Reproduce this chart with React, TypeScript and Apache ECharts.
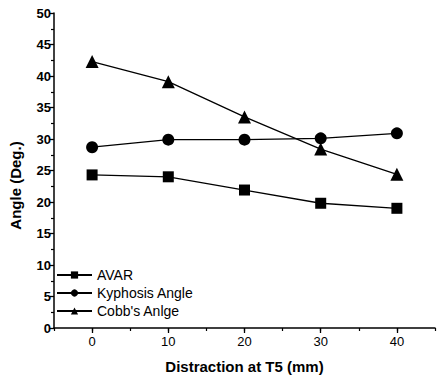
import React, { useEffect, useRef } from "react";
import * as echarts from "echarts";

const distraction = [0, 10, 20, 30, 40];
const avar = [24.3, 24.0, 21.9, 19.8, 19.0];
const kyphosis = [28.7, 29.9, 29.9, 30.1, 30.9];
const cobb = [42.3, 39.1, 33.5, 28.4, 24.4];
const xTickLabels = [0, 10, 20, 30, 40];

const FONT = "'Liberation Sans', Arial, sans-serif";

export default function App() {
  const ref = useRef<HTMLDivElement>(null);
  useEffect(() => {
    if (!ref.current) return;
    const chart = echarts.init(ref.current, null, { renderer: "svg" });
    const mk = (name: string, vals: number[], symbol: string, size: number) => ({
      name,
      type: "line",
      data: distraction.map((d, i) => [d, vals[i]]),
      symbol,
      symbolSize: size,
      itemStyle: { color: "#000" },
      lineStyle: { color: "#000", width: 1.3 },
      z: 3,
    });
    chart.setOption({
      animation: false,
      backgroundColor: "#fff",
      grid: { left: 52, right: 2, top: 13, bottom: 53 },
      legend: {
        left: 51,
        top: 263,
        orient: "vertical",
        itemWidth: 35,
        itemHeight: 9,
        itemGap: 4,
        textStyle: { fontFamily: FONT, fontSize: 14, color: "#000" },
        data: ["AVAR", "Kyphosis Angle", "Cobb's Anlge"],
      },
      xAxis: [
        {
          type: "value",
          min: -5,
          max: 45,
          interval: 5,
          name: "Distraction at T5 (mm)",
          nameLocation: "middle",
          nameGap: 31,
          nameTextStyle: { fontFamily: FONT, fontSize: 15, fontWeight: "bold", color: "#000" },
          axisLine: { show: true, onZero: false, lineStyle: { color: "#000", width: 1.5 } },
          axisTick: { show: true, length: 5, lineStyle: { color: "#000", width: 1.3 }, customValues: xTickLabels },
          axisLabel: { fontFamily: FONT, fontSize: 13, color: "#000", margin: 7, customValues: xTickLabels },
          splitLine: { show: false },
        },
        {
          type: "value",
          min: -5,
          max: 45,
          interval: 5,
          position: "bottom",
          axisLine: { show: false },
          axisTick: { show: true, length: 3, lineStyle: { color: "#000", width: 1.2 } },
          axisLabel: { show: false },
          splitLine: { show: false },
        },
      ],
      yAxis: {
        type: "value",
        min: 0,
        max: 50,
        interval: 5,
        name: "Angle (Deg.)",
        nameLocation: "middle",
        nameGap: 31,
        nameTextStyle: { fontFamily: FONT, fontSize: 15, fontWeight: "bold", color: "#000", padding: [0, 30, 0, 0] },
        axisLine: { show: true, onZero: false, lineStyle: { color: "#000", width: 1.5 } },
        axisTick: { show: true, length: 4, lineStyle: { color: "#000", width: 1.3 } },
        minorTick: { show: true, splitNumber: 2, length: 3, lineStyle: { color: "#000", width: 1.2 } },
        axisLabel: { fontFamily: FONT, fontSize: 13, fontWeight: "bold", color: "#000", margin: 3 },
        splitLine: { show: false },
      },
      series: [
        mk("AVAR", avar, "rect", 11),
        mk("Kyphosis Angle", kyphosis, "circle", 12),
        mk("Cobb's Anlge", cobb, "triangle", 13),
      ],
    });
    return () => chart.dispose();
  }, []);
  return <div ref={ref} style={{ width: 437, height: 381, position: "absolute", left: 0, top: 0 }} />;
}
